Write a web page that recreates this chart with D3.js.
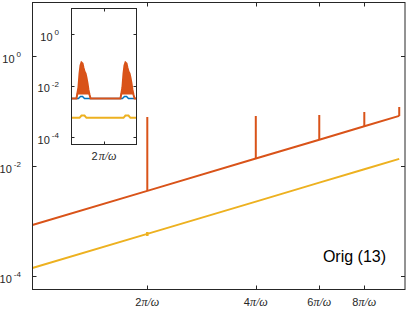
<!DOCTYPE html>
<html>
<head>
<meta charset="utf-8">
<script src="https://cdn.jsdelivr.net/npm/d3@7"></script>
<style>
  html, body { margin: 0; padding: 0; background: #fff; }
  svg { display: block; }
  text { font-family: "Liberation Sans", Arial, sans-serif; fill: #262626; }
</style>
</head>
<body>
<svg id="chart" width="407" height="311"></svg>
<script>
// ---------------- data (t in units of pi/omega) ----------------
const mainT      = [0.96, 2, 4, 6, 8, 10];
const redMain    = [8.45e-4, 3.53e-3, 1.365e-2, 3.01e-2, 5.27e-2, 8.15e-2];
const yellowMain = [1.40e-4, 5.83e-4, 2.25e-3, 4.98e-3, 8.71e-3, 1.346e-2];
const spikeT     = [2, 4, 6, 8, 10];
const spikeBase  = [3.53e-3, 1.365e-2, 3.01e-2, 5.27e-2, 8.15e-2];
const spikeTop   = [0.0778, 0.081, 0.0845, 0.0959, 0.118];
const yellowBlipT = [2];
const yellowBlipLo = [5.33e-4];
const yellowBlipHi = [6.3e-4];

const xTicks = [2, 4, 6, 8];
const xTickLabels = ["2", "4", "6", "8"];
const yTicks = [1e-4, 1e-2, 1];
const yTickExp = ["-4", "-2", "0"];
const annotation = "Orig (13)";

// inset (zoom around t = 2)
const insetRedT = [1.85, 1.873, 1.882, 1.887, 1.8915, 1.896, 1.901, 1.905, 1.910, 1.915, 1.919, 1.924, 1.928, 1.933, 1.938,
                   2.076, 2.085, 2.090, 2.0945, 2.099, 2.104, 2.108, 2.113, 2.118, 2.122, 2.127, 2.131, 2.136, 2.141, 2.15];
const insetRedV = [0.00313, 0.00313, 0.00836, 0.0292, 0.0598, 0.0782, 0.0714, 0.050, 0.035, 0.0292, 0.0205, 0.0120, 0.0070, 0.00447, 0.00313,
                   0.00313, 0.00836, 0.0292, 0.0598, 0.0782, 0.0714, 0.050, 0.035, 0.0292, 0.0205, 0.0120, 0.0070, 0.00447, 0.00313, 0.00313];
const insetBlueT = [1.85, 1.882, 1.8915, 1.901, 1.910, 2.085, 2.0945, 2.104, 2.113, 2.15];
const insetBlueV = [0.00313, 0.00313, 0.00374, 0.00374, 0.00313, 0.00313, 0.00374, 0.00374, 0.00313, 0.00313];
const insetYellowT = [1.85, 1.887, 1.896, 1.910, 1.919, 2.090, 2.099, 2.113, 2.122, 2.15];
const insetYellowV = [5.57e-4, 5.57e-4, 6.84e-4, 6.84e-4, 5.57e-4, 5.57e-4, 6.84e-4, 6.84e-4, 5.57e-4, 5.57e-4];
const insetXTicks = [2];
const insetYTicks = [1e-4, 1e-2, 1];
const insetYTickExp = ["-4", "-2", "0"];

// ---------------- layout ----------------
const RED = "#D95319", YELLOW = "#EDB120", BLUE = "#0072BD", AX = "#262626";
const svg = d3.select("#chart");
const M = { left: 32.5, right: 405, top: 2.5, bottom: 289.5 };

const x = d3.scaleLog().domain([2, 8]).range([147.3, 364.3]);
const y = d3.scaleLog().domain([1e-4, 1]).range([276, 56]);

svg.append("clipPath").attr("id", "mainClip").append("rect")
  .attr("x", M.left).attr("y", M.top).attr("width", M.right - M.left).attr("height", M.bottom - M.top);

const plot = svg.append("g").attr("clip-path", "url(#mainClip)");
const line = d3.line().x((d) => x(d[0])).y((d) => y(d[1]));

plot.append("path").datum(d3.zip(mainT, yellowMain)).attr("d", line)
  .attr("fill", "none").attr("stroke", YELLOW).attr("stroke-width", 2);
plot.selectAll(".yblip").data(d3.range(yellowBlipT.length)).join("line")
  .attr("x1", (i) => x(yellowBlipT[i])).attr("x2", (i) => x(yellowBlipT[i]))
  .attr("y1", (i) => y(yellowBlipLo[i])).attr("y2", (i) => y(yellowBlipHi[i]))
  .attr("stroke", YELLOW).attr("stroke-width", 2.5);
plot.append("path").datum(d3.zip(mainT, redMain)).attr("d", line)
  .attr("fill", "none").attr("stroke", RED).attr("stroke-width", 2);
plot.selectAll(".spike").data(d3.range(spikeT.length)).join("line")
  .attr("x1", (i) => x(spikeT[i])).attr("x2", (i) => x(spikeT[i]))
  .attr("y1", (i) => y(spikeBase[i])).attr("y2", (i) => y(spikeTop[i]))
  .attr("stroke", RED).attr("stroke-width", 2);

// box
svg.append("rect").attr("x", M.left).attr("y", M.top)
  .attr("width", M.right - M.left).attr("height", M.bottom - M.top)
  .attr("fill", "none").attr("stroke", AX).attr("stroke-width", 1);

// ticks (inward, mirrored)
const tl = 4;
svg.append("g").selectAll("line").data(yTicks).join("line")
  .attr("x1", M.left).attr("x2", M.left + tl)
  .attr("y1", (d) => Math.round(y(d)) + 0.5).attr("y2", (d) => Math.round(y(d)) + 0.5)
  .attr("stroke", AX);
svg.append("g").selectAll("line").data(yTicks).join("line")
  .attr("x1", M.right).attr("x2", M.right - tl)
  .attr("y1", (d) => Math.round(y(d)) + 0.5).attr("y2", (d) => Math.round(y(d)) + 0.5)
  .attr("stroke", AX);
svg.append("g").selectAll("line").data(xTicks).join("line")
  .attr("x1", (d) => Math.round(x(d)) + 0.5).attr("x2", (d) => Math.round(x(d)) + 0.5)
  .attr("y1", M.bottom).attr("y2", M.bottom - tl).attr("stroke", AX);
svg.append("g").selectAll("line").data(xTicks).join("line")
  .attr("x1", (d) => Math.round(x(d)) + 0.5).attr("x2", (d) => Math.round(x(d)) + 0.5)
  .attr("y1", M.top).attr("y2", M.top + tl).attr("stroke", AX);

// y tick labels
function powLabel(g, xr, yc, exp, fs) {
  const t = g.append("text").attr("x", xr).attr("y", yc + fs * 0.62)
    .attr("text-anchor", "end").style("font-size", fs + "px");
  t.append("tspan").text("10");
  t.append("tspan").attr("dx", 2).attr("dy", -fs * 0.5).style("font-size", (fs * 0.73) + "px").text(exp);
}
yTicks.forEach((d, i) => powLabel(svg, 21, y(d), yTickExp[i], 11));

// x tick labels
xTicks.forEach((d, i) => {
  const t = svg.append("text").attr("x", x(d)).attr("y", 306)
    .attr("text-anchor", "middle").style("font-size", "11px");
  t.append("tspan").text(xTickLabels[i]);
  t.append("tspan").style("font-family", "'Liberation Serif', serif").style("font-style", "italic")
    .style("font-size", "12px").text("\u03C0/\u03C9");
});

// annotation
svg.append("text").attr("x", 386).attr("y", 262).attr("text-anchor", "end")
  .style("font-size", "16px").style("fill", "#000").text(annotation);

// ---------------- inset ----------------
const I = { left: 71.5, right: 136.5, top: 8.5, bottom: 144.5 };
const xi = d3.scaleLinear().domain([1.85, 2.15]).range([I.left, I.right]);
const yi = d3.scaleLog().domain([1e-4, 1]).range([137, 34]);

svg.append("rect").attr("x", I.left).attr("y", I.top)
  .attr("width", I.right - I.left).attr("height", I.bottom - I.top).attr("fill", "#fff");
svg.append("clipPath").attr("id", "insetClip").append("rect")
  .attr("x", I.left).attr("y", I.top).attr("width", I.right - I.left).attr("height", I.bottom - I.top);
const ip = svg.append("g").attr("clip-path", "url(#insetClip)");
const iline = d3.line().x((d) => xi(d[0])).y((d) => yi(d[1]));
const iarea = d3.area().x((d) => xi(d[0])).y0(yi(0.0045)).y1((d) => yi(Math.max(d[1], 0.0045)));

// draw order as in the original: blue, red, yellow
ip.append("path").datum(d3.zip(insetBlueT, insetBlueV)).attr("d", iline)
  .attr("fill", "none").attr("stroke", BLUE).attr("stroke-width", 1.5);
ip.append("path").datum(d3.zip(insetRedT, insetRedV)).attr("d", iline)
  .attr("fill", "none").attr("stroke", RED).attr("stroke-width", 2);
ip.append("path").datum(d3.zip(insetRedT, insetRedV)).attr("d", iarea)
  .attr("fill", RED).attr("stroke", "none");
ip.append("path").datum(d3.zip(insetYellowT, insetYellowV)).attr("d", iline)
  .attr("fill", "none").attr("stroke", YELLOW).attr("stroke-width", 2);

svg.append("rect").attr("x", I.left).attr("y", I.top)
  .attr("width", I.right - I.left).attr("height", I.bottom - I.top)
  .attr("fill", "none").attr("stroke", AX).attr("stroke-width", 1);
const itl = 3;
svg.append("g").selectAll("line").data(insetYTicks).join("line")
  .attr("x1", I.left).attr("x2", I.left + itl)
  .attr("y1", (d) => Math.round(yi(d)) + 0.5).attr("y2", (d) => Math.round(yi(d)) + 0.5).attr("stroke", AX);
svg.append("g").selectAll("line").data(insetYTicks).join("line")
  .attr("x1", I.right).attr("x2", I.right - itl)
  .attr("y1", (d) => Math.round(yi(d)) + 0.5).attr("y2", (d) => Math.round(yi(d)) + 0.5).attr("stroke", AX);
svg.append("g").selectAll("line").data(insetXTicks).join("line")
  .attr("x1", (d) => Math.round(xi(d)) + 0.5).attr("x2", (d) => Math.round(xi(d)) + 0.5)
  .attr("y1", I.bottom).attr("y2", I.bottom - itl).attr("stroke", AX);
svg.append("g").selectAll("line").data(insetXTicks).join("line")
  .attr("x1", (d) => Math.round(xi(d)) + 0.5).attr("x2", (d) => Math.round(xi(d)) + 0.5)
  .attr("y1", I.top).attr("y2", I.top + itl).attr("stroke", AX);

insetYTicks.forEach((d, i) => powLabel(svg, 59, yi(d), insetYTickExp[i], 11));
insetXTicks.forEach((d) => {
  const t = svg.append("text").attr("x", xi(d)).attr("y", 160)
    .attr("text-anchor", "middle").style("font-size", "11px");
  t.append("tspan").text("2");
  t.append("tspan").attr("dx", 1).style("font-family", "'Liberation Serif', serif").style("font-style", "italic")
    .style("font-size", "12px").text("\u03C0/\u03C9");
});
</script>
</body>
</html>
